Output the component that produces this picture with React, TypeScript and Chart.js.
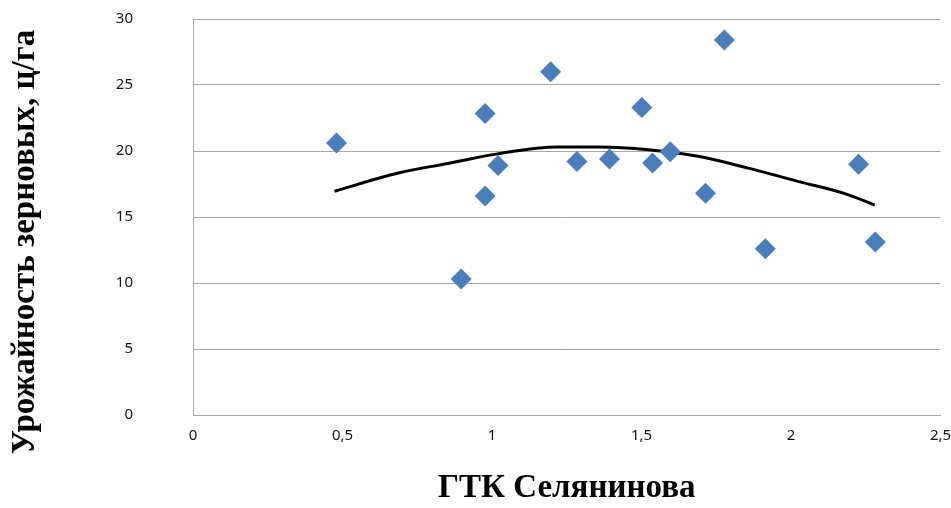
import React, { useEffect, useRef } from "react";
import { Chart, registerables } from "chart.js";

Chart.register(...registerables);

const gtkValues = [0.48, 0.897, 0.977, 0.977, 1.02, 1.196, 1.284, 1.393, 1.501, 1.537, 1.596, 1.714, 1.777, 1.914, 2.226, 2.282];
const yieldValues = [20.6, 10.3, 22.85, 16.6, 18.9, 26.0, 19.2, 19.4, 23.3, 19.1, 19.95, 16.8, 28.4, 12.6, 19.0, 13.1];

const trendX = [0.473, 0.69, 0.857, 1.023, 1.22, 1.357, 1.523, 1.69, 1.857, 2.023, 2.19, 2.28];
const trendY = [16.95, 18.35, 19.07, 19.8, 20.3, 20.3, 20.1, 19.6, 18.7, 17.7, 16.7, 15.9];

const xTicks = [0, 0.5, 1, 1.5, 2, 2.5];
const yTicks = [0, 5, 10, 15, 20, 25, 30];

const xTitle = "ГТК Селянинова";
const yTitle = "Урожайность зерновых, ц/га";

const zeroPad = (s: any) => {
  s.paddingLeft = 0;
  s.paddingRight = 0;
  s.paddingTop = 0;
  s.paddingBottom = 0;
};

const yTitlePlugin = {
  id: "yTitlePlugin",
  afterDraw(chart: any) {
    const { ctx, chartArea } = chart;
    ctx.save();
    ctx.translate(25, (chartArea.top + chartArea.bottom) / 2 + 25);
    ctx.rotate(-Math.PI / 2);
    ctx.font = "bold 33px 'Liberation Serif', serif";
    ctx.fillStyle = "#000";
    ctx.textAlign = "center";
    ctx.textBaseline = "middle";
    ctx.fillText(yTitle, 0, 0);
    ctx.restore();
  },
};

export default function App() {
  const ref = useRef<HTMLCanvasElement | null>(null);

  useEffect(() => {
    if (!ref.current) return;
    const chart = new Chart(ref.current, {
      type: "scatter",
      data: {
        datasets: [
          {
            label: "points",
            data: gtkValues.map((x, i) => ({ x, y: yieldValues[i] })),
            pointStyle: "rectRot",
            pointRadius: 10.5,
            backgroundColor: "#4a7ebb",
            borderColor: "#4a7ebb",
            borderWidth: 0,
            showLine: false,
          },
          {
            label: "trend",
            data: trendX.map((x, i) => ({ x, y: trendY[i] })),
            showLine: true,
            borderColor: "#000000",
            borderWidth: 3,
            pointRadius: 0,
            tension: 0.4,
            cubicInterpolationMode: "monotone",
            fill: false,
          },
        ],
      },
      plugins: [yTitlePlugin],
      options: {
        responsive: false,
        animation: false,
        layout: { padding: { top: 19, right: 8, left: 0, bottom: 0 } },
        plugins: { legend: { display: false }, tooltip: { enabled: false } },
        scales: {
          x: {
            type: "linear",
            min: 0,
            max: 2.5,
            afterBuildTicks: (s: any) => {
              s.ticks = xTicks.map((v) => ({ value: v }));
            },
            afterFit: (s: any) => {
              s.height = 93;
              zeroPad(s);
            },
            grid: { display: false, drawTicks: false },
            border: { display: true, color: "#a6a6a6", width: 1 },
            ticks: {
              padding: 12,
              color: "#111",
              font: { family: "'Noto Sans', sans-serif", size: 15 },
              callback: (v: any) => String(v).replace(".", ","),
            },
            title: {
              display: true,
              text: xTitle,
              color: "#000",
              font: { family: "'Liberation Serif', serif", size: 33, weight: "bold" },
              padding: { top: 0, bottom: 0 },
            },
          },
          y: {
            type: "linear",
            min: 0,
            max: 30,
            afterBuildTicks: (s: any) => {
              s.ticks = yTicks.map((v) => ({ value: v }));
            },
            afterFit: (s: any) => {
              s.width = 193;
              zeroPad(s);
            },
            grid: { display: true, color: "#a6a6a6", lineWidth: 1, drawTicks: false },
            border: { display: true, color: "#a6a6a6", width: 1 },
            ticks: {
              padding: 60,
              color: "#111",
              font: { family: "'Noto Sans', sans-serif", size: 15 },
            },
            title: { display: false, text: yTitle },
          },
        },
      },
    });
    return () => chart.destroy();
  }, []);

  return (
    <div style={{ position: "fixed", left: 0, top: 0, width: 951, height: 508, background: "#fff" }}>
      <canvas ref={ref} width={951} height={508} style={{ display: "block" }} />
    </div>
  );
}
